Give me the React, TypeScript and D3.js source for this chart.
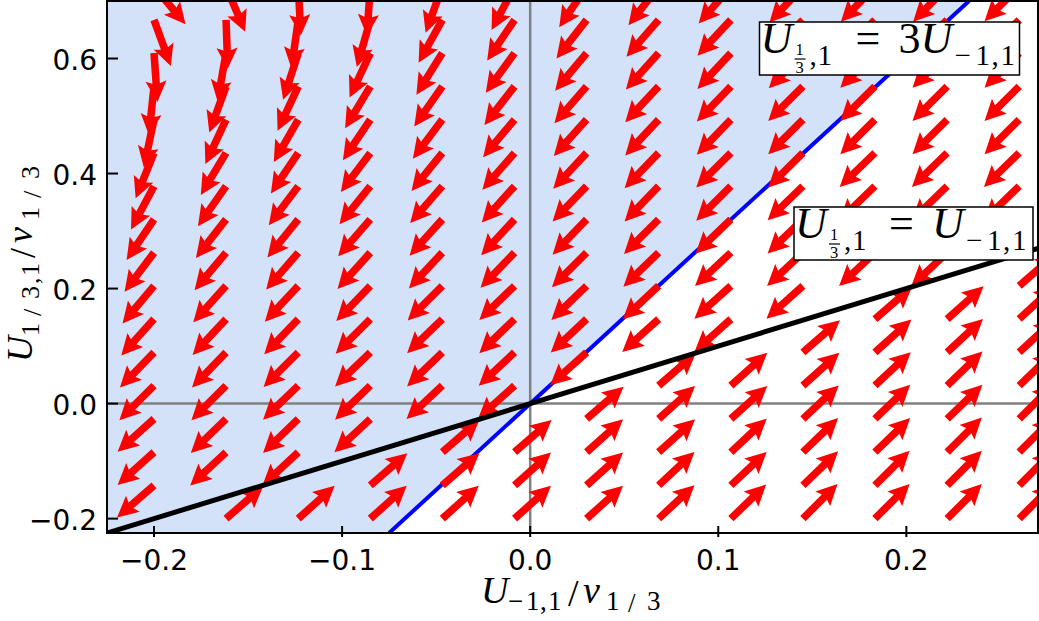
import React, { useEffect, useRef } from 'react';
import * as d3 from 'd3';

// grid of arrow tails (data units)
const xGrid = [-0.2, -0.1617, -0.1233, -0.085, -0.0467, -0.0083, 0.03, 0.0683, 0.1067, 0.145, 0.1833, 0.2217, 0.26];
const yGrid = [-0.2, -0.1422, -0.0844, -0.0266, 0.0313, 0.0891, 0.1469, 0.2047, 0.2625, 0.3203,
  0.3781, 0.4359, 0.4938, 0.5516, 0.6094, 0.6672, 0.725];

// arrow direction in degrees (counter-clockwise from +x), one row per yGrid value,
// null where no arrow is drawn (points on / next to the U_{1/3,1} = U_{-1,1} line)
const arrowDeg: (number | null)[][] = [
  [null, 41, 42, 42, 42, 42, 42, 43, 44, 45, 45, 45, 45],
  [221, null, null, 41, 41, 42, 42, 43, 43, 44, 45, 45, 45],
  [222, 223, 223, null, 41, 41, 42, 42, 43, 44, 44, 45, 45],
  [222, 224, 224, 223, null, null, 41, 42, 42, 43, 44, 44, 45],
  [225, 225, 224, 224, 223, 222, null, 41, 42, 42, 43, 44, 44],
  [226, 226, 225, 224, 224, 223, 222, null, null, 41, 42, 43, 43],
  [228, 227, 226, 225, 224, 224, 223, 222, 222, null, 41, 42, 43],
  [230, 228, 227, 226, 225, 224, 224, 223, 222, 222, null, null, 41],
  [233, 230, 229, 228, 227, 226, 225, 224, 223, 223, 223, 223, null],
  [236, 232, 231, 229, 228, 227, 226, 225, 224, 224, 224, 224, 224],
  [242, 235, 233, 231, 229, 228, 226, 226, 225, 224, 224, 224, 224],
  [248, 239, 236, 233, 231, 229, 227, 226, 225, 225, 224, 224, 224],
  [258, 245, 240, 236, 233, 230, 228, 227, 226, 225, 225, 225, 225],
  [264, 250, 245, 239, 235, 232, 229, 227, 226, 225, 225, 225, 225],
  [274, 260, 252, 245, 238, 234, 230, 228, 227, 226, 225, 225, 225],
  [290, 272, 262, 254, 241, 236, 232, 229, 227, 226, 226, 225, 225],
  [310, 293, 273, 266, 250, 242, 236, 232, 229, 227, 226, 226, 225],
];

const xTicks = [-0.2, -0.1, 0.0, 0.1, 0.2];
const yTicks = [-0.2, 0.0, 0.2, 0.4, 0.6];
const xLimits = [-0.225, 0.27];
const yLimits = [-0.225, 0.7];

// the two lines: U_{1/3,1} = slope * U_{-1,1}
const blueSlope = 3;
const blackSlope = 1;

type Piece = { t: string; x: number; y: number; size: number; italic?: boolean };

function addPieces(g: any, pieces: Piece[]) {
  g.selectAll('text.piece')
    .data(pieces)
    .join('text')
    .attr('class', 'piece')
    .attr('x', (d: Piece) => d.x)
    .attr('y', (d: Piece) => d.y)
    .attr('font-family', '"Liberation Serif", "DejaVu Serif", serif')
    .attr('font-style', (d: Piece) => (d.italic ? 'italic' : 'normal'))
    .attr('font-size', (d: Piece) => d.size)
    .attr('fill', '#000')
    .text((d: Piece) => d.t);
}

// U_{1/3,1} with a stacked 1/3 fraction, then the right hand side
function fracLabel(g: any, ox: number, oy: number, rhs3: boolean) {
  const pieces: Piece[] = [
    { t: 'U', x: ox + 1, y: oy + 31, size: 44, italic: true },
    { t: '1', x: ox + 36, y: oy + 32.5, size: 16.5 },
    { t: '3', x: ox + 36, y: oy + 51, size: 16.5 },
    { t: ',', x: ox + 50, y: oy + 43, size: 29 },
    { t: '1', x: ox + 58, y: oy + 43, size: 29 },
  ];
  pieces.push({ t: '=', x: rhs3 ? ox + 96 : ox + 95, y: oy + 31, size: 44 });
  const ux = rhs3 ? ox + 161 : ox + 138;
  if (rhs3) pieces.push({ t: '3', x: ox + 139, y: oy + 31, size: 44 });
  pieces.push({ t: 'U', x: ux, y: oy + 31, size: 44, italic: true });
  const sx = ux + 34;
  pieces.push({ t: '\u2212', x: sx, y: oy + 43, size: 29 });
  pieces.push({ t: '1', x: sx + 21, y: oy + 43, size: 29 });
  pieces.push({ t: ',', x: sx + 37, y: oy + 43, size: 29 });
  pieces.push({ t: '1', x: sx + 46, y: oy + 43, size: 29 });
  addPieces(g, pieces);
  g.append('line')
    .attr('x1', ox + 35).attr('x2', ox + 46)
    .attr('y1', oy + 37).attr('y2', oy + 37)
    .attr('stroke', '#000').attr('stroke-width', 1.2);
}

function QuiverChart() {
  const ref = useRef<SVGSVGElement>(null);

  useEffect(() => {
    const svg = d3.select(ref.current);
    svg.selectAll('*').remove();

    const left = 107, right = 1038, top = 1, bottom = 533;
    const x = d3.scaleLinear().domain(xLimits).range([left, right]);
    const y = d3.scaleLinear().domain(yLimits).range([bottom, top]);

    svg.append('rect').attr('width', 1039).attr('height', 621).attr('fill', '#fff');

    svg.append('defs').append('clipPath').attr('id', 'plotClip')
      .append('rect')
      .attr('x', left).attr('y', top)
      .attr('width', right - left).attr('height', bottom - top);

    const plot = svg.append('g').attr('clip-path', 'url(#plotClip)');

    // shaded region above the blue line
    const xb0 = yLimits[0] / blueSlope, xb1 = yLimits[1] / blueSlope;
    const region: [number, number][] = [
      [x(xLimits[0]), y(yLimits[0])],
      [x(xb0), y(yLimits[0])],
      [x(xb1), y(yLimits[1])],
      [x(xLimits[0]), y(yLimits[1])],
    ];
    plot.append('path')
      .attr('d', d3.line()(region) + 'Z')
      .attr('fill', '#d3e2f8');

    // zero lines
    plot.append('line')
      .attr('x1', x(0)).attr('x2', x(0)).attr('y1', top).attr('y2', bottom)
      .attr('stroke', '#808080').attr('stroke-width', 2.5);
    plot.append('line')
      .attr('x1', left).attr('x2', right).attr('y1', y(0)).attr('y2', y(0))
      .attr('stroke', '#808080').attr('stroke-width', 2.5);

    // blue line
    plot.append('line')
      .attr('x1', x(xb0)).attr('y1', y(yLimits[0]))
      .attr('x2', x(xb1)).attr('y2', y(yLimits[1]))
      .attr('stroke', '#0000ff').attr('stroke-width', 4);

    // arrows (tail at the grid point)
    const L = 49, w = 7.5, hw = 21, hl = 21, hal = 18.5;
    const shape = [[0, -w / 2], [L - hal, -w / 2], [L - hl, -hw / 2], [L, 0],
      [L - hl, hw / 2], [L - hal, w / 2], [0, w / 2]];
    const arrows: { x: number; y: number; a: number }[] = [];
    arrowDeg.forEach((row, j) => row.forEach((a, i) => {
      if (a !== null) arrows.push({ x: xGrid[i], y: yGrid[j], a });
    }));
    plot.append('g')
      .selectAll('polygon')
      .data(arrows)
      .join('polygon')
      .attr('points', shape.map(p => p.join(',')).join(' '))
      .attr('transform', d => `translate(${x(d.x)},${y(d.y)}) rotate(${-d.a})`)
      .attr('fill', '#ff0000');

    // black line
    plot.append('line')
      .attr('x1', x(xLimits[0])).attr('y1', y(blackSlope * xLimits[0]))
      .attr('x2', x(xLimits[1])).attr('y2', y(blackSlope * xLimits[1]))
      .attr('stroke', '#000').attr('stroke-width', 5);

    // spines
    svg.append('rect')
      .attr('x', left).attr('y', top)
      .attr('width', right - left).attr('height', bottom - top)
      .attr('fill', 'none').attr('stroke', '#000').attr('stroke-width', 2);

    // ticks
    svg.append('g').selectAll('line').data(xTicks).join('line')
      .attr('x1', d => x(d)).attr('x2', d => x(d))
      .attr('y1', bottom - 7).attr('y2', bottom + 4)
      .attr('stroke', '#000').attr('stroke-width', 2);
    svg.append('g').selectAll('line').data(yTicks).join('line')
      .attr('x1', left).attr('x2', left + 11)
      .attr('y1', d => y(d)).attr('y2', d => y(d))
      .attr('stroke', '#000').attr('stroke-width', 2);

    const fmt = (v: number) => d3.format('.1f')(v).replace('-', '\u2212');
    svg.append('g').selectAll('text').data(xTicks).join('text')
      .attr('x', d => x(d)).attr('y', 570)
      .attr('text-anchor', 'middle')
      .attr('font-family', '"DejaVu Sans", sans-serif').attr('font-size', 28)
      .text(d => fmt(d));
    svg.append('g').selectAll('text').data(yTicks).join('text')
      .attr('x', 97).attr('y', d => y(d) + 11)
      .attr('text-anchor', 'end')
      .attr('font-family', '"DejaVu Sans", sans-serif').attr('font-size', 28)
      .text(d => fmt(d));

    // x label  U_{-1,1}/v_{1/3}
    addPieces(svg.append('g'), [
      { t: 'U', x: 481, y: 603, size: 38, italic: true },
      { t: '\u2212', x: 508, y: 610, size: 27 },
      { t: '1', x: 526, y: 610, size: 27 },
      { t: ',', x: 540, y: 610, size: 27 },
      { t: '1', x: 548, y: 610, size: 27 },
      { t: '/', x: 568, y: 606, size: 38 },
      { t: 'v', x: 583, y: 603, size: 38, italic: true },
      { t: '1', x: 606, y: 610, size: 27 },
      { t: '/', x: 628, y: 612, size: 27 },
      { t: '3', x: 647, y: 610, size: 27 },
    ]);

    // y label  U_{1/3,1}/v_{1/3}, rotated
    addPieces(svg.append('g').attr('transform', 'translate(32,362) rotate(-90)'), [
      { t: 'U', x: 0, y: 0, size: 36, italic: true },
      { t: '1', x: 26, y: 7, size: 26 },
      { t: '/', x: 46, y: 9, size: 26 },
      { t: '3', x: 63, y: 7, size: 26 },
      { t: ',', x: 78, y: 7, size: 26 },
      { t: '1', x: 86, y: 7, size: 26 },
      { t: '/', x: 104, y: 3, size: 36 },
      { t: 'v', x: 119, y: 0, size: 36, italic: true },
      { t: '1', x: 142, y: 7, size: 26 },
      { t: '/', x: 164, y: 9, size: 26 },
      { t: '3', x: 183, y: 7, size: 26 },
    ]);

    // annotation boxes
    const box1 = svg.append('g');
    box1.append('rect')
      .attr('x', 759.5).attr('y', 22).attr('width', 260).attr('height', 53)
      .attr('fill', '#fff').attr('stroke', '#000').attr('stroke-width', 1.5);
    fracLabel(box1, 759.5, 22, true);

    const box2 = svg.append('g');
    box2.append('rect')
      .attr('x', 794).attr('y', 207).attr('width', 239).attr('height', 53)
      .attr('fill', '#fff').attr('stroke', '#000').attr('stroke-width', 1.5);
    fracLabel(box2, 794, 207, false);
  }, []);

  return (
    <svg ref={ref} width={1039} height={621}
      style={{ position: 'absolute', left: 0, top: 0, display: 'block' }} />
  );
}

export default function App() {
  return <QuiverChart />;
}
